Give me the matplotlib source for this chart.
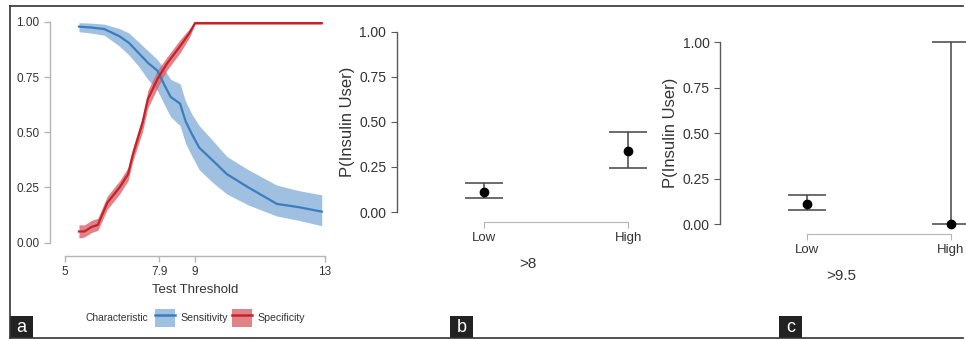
import matplotlib
matplotlib.use("Agg")
import matplotlib.pyplot as plt
from matplotlib.patches import Patch, Rectangle
from matplotlib.lines import Line2D

plt.rcParams['font.family'] = ['Liberation Sans', 'DejaVu Sans']

# panel a: sensitivity / specificity vs threshold
sens_x = [5.43, 5.8, 6.21, 6.68, 6.97, 7.26, 7.55, 7.84, 8.04, 8.25,
          8.54, 8.71, 8.91, 9.13, 9.56, 9.98, 10.64, 11.52, 12.2, 12.9]
sens = [0.979, 0.975, 0.968, 0.935, 0.905, 0.86, 0.815, 0.78, 0.72, 0.66,
        0.63, 0.55, 0.49, 0.43, 0.37, 0.31, 0.25, 0.175, 0.16, 0.14]
sens_lo = [0.956, 0.95, 0.94, 0.89, 0.85, 0.80, 0.74, 0.69, 0.63, 0.57,
           0.53, 0.45, 0.39, 0.33, 0.27, 0.22, 0.17, 0.12, 0.10, 0.076]
sens_hi = [0.997, 0.995, 0.99, 0.97, 0.95, 0.91, 0.87, 0.83, 0.79, 0.74,
           0.72, 0.64, 0.58, 0.53, 0.46, 0.39, 0.33, 0.26, 0.235, 0.216]

spec_x = [5.43, 5.6, 5.81, 6.01, 6.30, 6.68, 6.94, 7.09, 7.38, 7.55,
          7.84, 8.13, 8.54, 8.83, 9.0, 12.9]
spec = [0.05, 0.05, 0.07, 0.08, 0.18, 0.25, 0.31, 0.40, 0.54, 0.65,
        0.74, 0.81, 0.89, 0.95, 0.995, 0.995]
spec_lo = [0.02, 0.025, 0.045, 0.055, 0.15, 0.22, 0.28, 0.37, 0.50, 0.61,
           0.70, 0.78, 0.86, 0.93, 0.99, 0.99]
spec_hi = [0.08, 0.08, 0.10, 0.11, 0.21, 0.28, 0.34, 0.43, 0.57, 0.69,
           0.78, 0.84, 0.92, 0.97, 1.0, 1.0]

x_ticks_a = [5, 7.9, 9, 13]
y_ticks = [0, 0.25, 0.5, 0.75, 1.0]

# panels b, c: P(insulin user) by group
groups = ['Low', 'High']
p_b = [0.11, 0.34]
p_b_lo = [0.075, 0.245]
p_b_hi = [0.16, 0.445]
p_c = [0.11, 0.0]
p_c_lo = [0.075, 0.0]
p_c_hi = [0.16, 1.0]

BLUE = '#3b7dbd'
BLUE_BAND = '#8fb5dc'
RED = '#c62229'
RED_BAND = '#d9646a'
TXT = '#333333'

fig = plt.figure(figsize=(9.66, 3.39), dpi=100)
W, H = 966, 339


def px_ax(left, top, right, bottom):
    return fig.add_axes([left / W, 1 - bottom / H, (right - left) / W, (bottom - top) / H])


def yfmt(ax):
    ax.set_yticks(y_ticks)
    ax.set_yticklabels(['%.2f' % v for v in y_ticks])


# ---- panel a
ax = px_ax(65, 22 - 0.03 * 220.5, 325, 242.5 + 0.03 * 220.5)
ax.fill_between(sens_x, sens_lo, sens_hi, color=BLUE_BAND, alpha=0.85, lw=0)
ax.plot(sens_x, sens, color=BLUE, lw=1.6)
ax.fill_between(spec_x, spec_lo, spec_hi, color=RED_BAND, alpha=0.8, lw=0)
ax.plot(spec_x, spec, color=RED, lw=1.6)
ax.set_xlim(5, 13)
ax.set_ylim(-0.03, 1.03)
ax.set_xticks(x_ticks_a)
ax.set_xticklabels(['5', '7.9', '9', '13'])
yfmt(ax)
for s in ['top', 'right']:
    ax.spines[s].set_visible(False)
ax.spines['left'].set_position(('outward', 10.8))
ax.spines['bottom'].set_position(('outward', 5))
ax.spines['left'].set_bounds(0, 1)
ax.spines['bottom'].set_bounds(5, 13)
for s in ['left', 'bottom']:
    ax.spines[s].set_color('#b5b5b5')
    ax.spines[s].set_linewidth(1.0)
ax.tick_params(colors='#b5b5b5', labelcolor=TXT, labelsize=8.5, length=4, width=1.0)
ax.set_xlabel('Test Threshold', fontsize=9.5, color=TXT, labelpad=4)

fig.text(85 / W, 1 - 318 / H, 'Characteristic', fontsize=7.4, color=TXT, va='center')
handles = [(Patch(facecolor=BLUE_BAND, alpha=0.85, lw=0), Line2D([], [], color=BLUE, lw=1.8)),
           (Patch(facecolor=RED_BAND, alpha=0.8, lw=0), Line2D([], [], color=RED, lw=1.8))]
fig.legend(handles, ['Sensitivity', 'Specificity'], loc='center left',
           bbox_to_anchor=(155 / W, 1 - 318 / H), ncol=2, frameon=False,
           fontsize=7.6, labelcolor=TXT, handlelength=1.9, handleheight=2.2,
           handletextpad=0.5, columnspacing=0.4, borderpad=0, borderaxespad=0)


# ---- panels b and c
def group_panel(ax, vals, lo, hi, xlab, right_lim):
    for i in range(len(groups)):
        ax.errorbar(i, vals[i], yerr=[[vals[i] - lo[i]], [hi[i] - vals[i]]],
                    fmt='o', color='black', ms=6, ecolor='#444444',
                    elinewidth=1.1, capsize=14, capthick=1.1, clip_on=False, zorder=3)
    ax.set_xlim(-0.6, right_lim)
    ax.set_ylim(0, 1)
    ax.set_xticks(range(len(groups)))
    ax.set_xticklabels(groups)
    yfmt(ax)
    for s in ['top', 'right']:
        ax.spines[s].set_visible(False)
    ax.spines['bottom'].set_position(('outward', 7))
    ax.spines['bottom'].set_bounds(0, 1)
    ax.spines['bottom'].set_color('#b5b5b5')
    ax.spines['left'].set_color('#5a5a5a')
    ax.spines['left'].set_linewidth(1.0)
    ax.tick_params(axis='x', colors='#b5b5b5', labelcolor=TXT, labelsize=9.5, length=4)
    ax.tick_params(axis='y', colors='#5a5a5a', labelcolor=TXT, labelsize=10, length=4)
    ax.set_ylabel('P(Insulin User)', fontsize=12, color=TXT, labelpad=3)
    ax.set_xlabel(xlab, fontsize=11, color=TXT, labelpad=9)


axb = px_ax(396.7, 31.7, 660, 212)
group_panel(axb, p_b, p_b_lo, p_b_hi, '>8', 1.22)

axc = px_ax(720, 42.3, 963, 224)
group_panel(axc, p_c, p_c_lo, p_c_hi, '>9.5', 1.083)

# frame lines and panel letters
frame = dict(color='#333333', lw=1.2, transform=fig.transFigure)
fig.add_artist(Line2D([10 / W, 963 / W], [1 - 6 / H, 1 - 6 / H], **frame))
fig.add_artist(Line2D([10 / W, 963 / W], [1 - 338 / H, 1 - 338 / H], **frame))
fig.add_artist(Line2D([10 / W, 10 / W], [1 - 6 / H, 1 - 338 / H], **frame))
for letter, x0 in [('a', 10), ('b', 450), ('c', 779)]:
    fig.add_artist(Rectangle((x0 / W, 1 - 338 / H), 23 / W, 22 / H,
                             transform=fig.transFigure, color='#222222', lw=0))
    fig.text((x0 + 11.5) / W, 1 - 327 / H, letter, color='white', fontsize=13,
             ha='center', va='center')

fig.savefig('out.png', dpi=100)
